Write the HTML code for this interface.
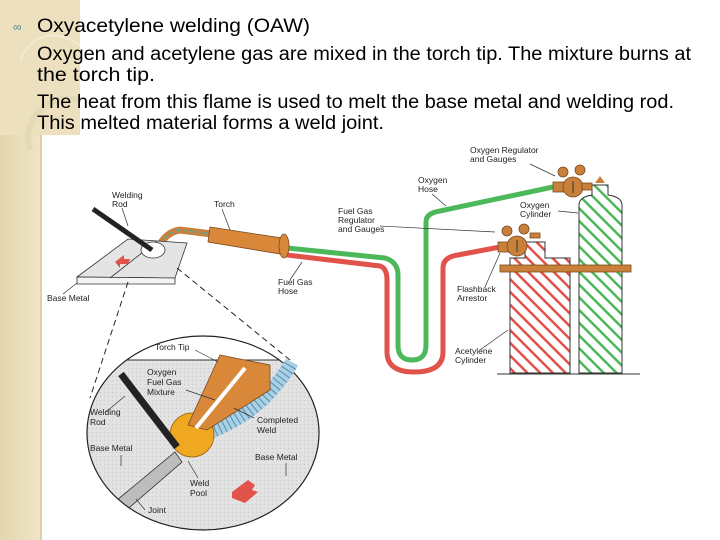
<!DOCTYPE html>
<html><head><meta charset="utf-8"><style>
html,body{margin:0;padding:0;background:#fff;width:720px;height:540px;overflow:hidden}
svg{display:block}
text{font-family:"Liberation Sans",sans-serif}
</style></head><body>
<svg width="720" height="540" viewBox="0 0 720 540" xmlns="http://www.w3.org/2000/svg">
<defs>
<linearGradient id="bg" x1="0" y1="0" x2="1" y2="0"><stop offset="0" stop-color="#e4d6ae"/><stop offset="1" stop-color="#efe5c8"/></linearGradient>
<pattern id="hr" width="9" height="9" patternUnits="userSpaceOnUse" patternTransform="rotate(-45)"><rect width="9" height="9" fill="#fff"/><rect width="2.5" height="9" fill="#e0524a"/></pattern>
<pattern id="hg" width="9" height="9" patternUnits="userSpaceOnUse" patternTransform="rotate(-45)"><rect width="9" height="9" fill="#fff"/><rect width="2.5" height="9" fill="#4cb85a"/></pattern>
<pattern id="dots" width="4" height="4" patternUnits="userSpaceOnUse"><rect width="4" height="4" fill="#e2e2e2"/><rect width="1" height="1" fill="#c8c8c8"/></pattern>
</defs>
<rect x="0" y="0" width="42" height="540" fill="url(#bg)"/>
<rect x="0" y="0" width="80" height="135" fill="#ece0bf"/>
<path d="M20 60 Q40 20 80 45" fill="none" stroke="#f3ead2" stroke-width="2"/>
<path d="M80 100 A40 40 0 0 0 30 150" fill="none" stroke="#e6dab6" stroke-width="6"/>
<line x1="41" y1="135" x2="41" y2="540" stroke="#c9b98c" stroke-width="1"/>
<text x="13" y="31" font-size="12" fill="#4a8a8a">&#8734;</text>
<g font-size="19" fill="#000">
<text x="37" y="32" textLength="273" lengthAdjust="spacingAndGlyphs">Oxyacetylene welding (OAW)</text>
<text x="37" y="60" textLength="654" lengthAdjust="spacingAndGlyphs">Oxygen and acetylene gas are mixed in the torch tip. The mixture burns at</text>
<text x="37" y="81" textLength="118" lengthAdjust="spacingAndGlyphs">the torch tip.</text>
<text x="37" y="108" textLength="637" lengthAdjust="spacingAndGlyphs">The heat from this flame is used to melt the base metal and welding rod.</text>
<text x="37" y="129" textLength="347" lengthAdjust="spacingAndGlyphs">This melted material forms a weld joint.</text>
</g>
<!-- hoses -->
<path d="M287 248 L385 258 Q398 262 398 275 L398 345 Q398 360 412 360 Q426 360 426 345 L426 222 Q426 213 440 211 L553 187" fill="none" stroke="#4cb85a" stroke-width="5"/>
<path d="M287 255 L380 266 Q387 268 387 280 L387 352 Q387 372 414 372 Q443 372 443 352 L443 268 Q443 257 458 255 L500 247" fill="none" stroke="#e0524a" stroke-width="5"/>
<!-- cylinders -->
<path d="M510 373 L510 258 L525 258 L525 242 L545 242 L545 258 L570 258 L570 373 Z" fill="url(#hr)" stroke="#333" stroke-width="1"/>
<path d="M579 373 L579 205 Q579 197 592 195 L592 185 L608 185 L608 195 Q622 197 622 205 L622 373 Z" fill="url(#hg)" stroke="#333" stroke-width="1"/>
<line x1="497" y1="374" x2="640" y2="374" stroke="#333"/>
<rect x="500" y="265" width="131" height="7" fill="#c9803a" stroke="#7a4a20" stroke-width="0.8"/>
<polygon points="595,183 600,176 605,183" fill="#c9803a"/>
<!-- regulators -->
<g fill="#c9803a" stroke="#7a4a20" stroke-width="0.8">
<rect x="553" y="182" width="12" height="10"/><circle cx="573" cy="187" r="10"/><circle cx="563" cy="172" r="5"/><circle cx="580" cy="170" r="5"/><rect x="582" y="183" width="10" height="7"/>
<rect x="498" y="242" width="12" height="10"/><circle cx="517" cy="246" r="10"/><circle cx="507" cy="231" r="5"/><circle cx="524" cy="229" r="5"/><rect x="530" y="233" width="10" height="5"/>
</g>
<line x1="573" y1="181" x2="573" y2="193" stroke="#333"/><line x1="517" y1="240" x2="517" y2="252" stroke="#333"/>
<!-- torch -->
<path d="M157 250 Q165 232 180 230 L212 234" fill="none" stroke="#c9803a" stroke-width="7"/>
<path d="M157 250 Q165 232 180 230 L212 234" fill="none" stroke="#5a9" stroke-width="2" stroke-dasharray="3 4"/>
<polygon points="210,227 282,238 280,254 208,242" fill="#d9883a" stroke="#7a4a20" stroke-width="0.8"/>
<ellipse cx="284" cy="246" rx="5" ry="12" fill="#d9883a" stroke="#7a4a20" stroke-width="0.8"/>
<!-- plates -->
<polygon points="77,277 128,239 187,243 175,278" fill="#e4e4e4" stroke="#333" stroke-width="0.8"/>
<polygon points="77,277 175,278 175,284 77,284" fill="#f4f4f4" stroke="#333" stroke-width="0.8"/>
<line x1="110" y1="278" x2="157" y2="241" stroke="#333" stroke-width="0.8"/>
<ellipse cx="153" cy="250" rx="12" ry="8" fill="#fff" stroke="#333" stroke-width="0.8"/>
<polygon points="115,262 124,255 124,259 130,259 128,264 120,264 120,268" fill="#e0524a"/>
<line x1="93" y1="209" x2="152" y2="250" stroke="#222" stroke-width="5"/>
<!-- dashed -->
<line x1="128" y1="282" x2="90" y2="398" stroke="#222" stroke-dasharray="6 4"/>
<line x1="177" y1="268" x2="290" y2="360" stroke="#222" stroke-dasharray="6 4"/>
<!-- detail circle -->
<clipPath id="cc"><ellipse cx="203" cy="433" rx="116" ry="97"/></clipPath>
<ellipse cx="203" cy="433" rx="116" ry="97" fill="#fff"/>
<g clip-path="url(#cc)">
<rect x="80" y="360" width="250" height="180" fill="url(#dots)"/>
<line x1="80" y1="360" x2="330" y2="360" stroke="#333"/>
<polygon points="105,510 175,452 182,462 115,520" fill="#bdbdbd" stroke="#333" stroke-width="0.8"/>
</g>
<ellipse cx="203" cy="433" rx="116" ry="97" fill="none" stroke="#222" stroke-width="1.2"/>
<path d="M210 432 Q240 420 262 400 Q282 380 292 362" fill="none" stroke="#a8d0e6" stroke-width="14"/>
<path d="M210 432 Q240 420 262 400 Q282 380 292 362" fill="none" stroke="#5a8aa8" stroke-width="14" stroke-dasharray="1 4"/>
<circle cx="192" cy="435" r="22" fill="#f0a820" stroke="#a06010" stroke-width="0.8"/>
<polygon points="220,355 270,365 270,390 207,430 188,425" fill="#d9883a" stroke="#7a4a20" stroke-width="0.8"/>
<line x1="245" y1="368" x2="196" y2="428" stroke="#fff" stroke-width="4"/>
<line x1="121" y1="374" x2="177" y2="447" stroke="#222" stroke-width="7"/>
<polygon points="232,492 248,480 255,485 252,490 258,492 245,503 232,498" fill="#e0524a"/>
<!-- labels -->
<g font-size="8.5" fill="#222">
<text x="112" y="198">Welding</text><text x="112" y="207">Rod</text>
<text x="214" y="207">Torch</text>
<text x="47" y="301">Base Metal</text>
<text x="278" y="285">Fuel Gas</text><text x="278" y="294">Hose</text>
<text x="338" y="214">Fuel Gas</text><text x="338" y="223">Regulator</text><text x="338" y="232">and Gauges</text>
<text x="418" y="183">Oxygen</text><text x="418" y="192">Hose</text>
<text x="470" y="153">Oxygen Regulator</text><text x="470" y="162">and Gauges</text>
<text x="520" y="208">Oxygen</text><text x="520" y="217">Cylinder</text>
<text x="457" y="292">Flashback</text><text x="457" y="301">Arrestor</text>
<text x="455" y="354">Acetylene</text><text x="455" y="363">Cylinder</text>
<text x="155" y="350">Torch Tip</text>
<text x="147" y="375">Oxygen</text><text x="147" y="385">Fuel Gas</text><text x="147" y="395">Mixture</text>
<text x="90" y="415">Welding</text><text x="90" y="425">Rod</text>
<text x="90" y="451">Base Metal</text>
<text x="257" y="423">Completed</text><text x="257" y="433">Weld</text>
<text x="255" y="460">Base Metal</text>
<text x="190" y="486">Weld</text><text x="190" y="496">Pool</text>
<text x="148" y="513">Joint</text>
</g>
<g stroke="#333" stroke-width="0.7" fill="none">
<line x1="122" y1="208" x2="128" y2="226"/><line x1="222" y1="209" x2="230" y2="230"/>
<line x1="63" y1="294" x2="77" y2="283"/><line x1="290" y1="280" x2="302" y2="262"/>
<line x1="380" y1="226" x2="495" y2="232"/><line x1="432" y1="194" x2="446" y2="206"/>
<line x1="530" y1="164" x2="555" y2="176"/><line x1="558" y1="211" x2="578" y2="213"/>
<line x1="485" y1="287" x2="500" y2="253"/><line x1="480" y1="350" x2="508" y2="330"/>
<line x1="195" y1="350" x2="218" y2="362"/><line x1="186" y1="390" x2="215" y2="400"/>
<line x1="106" y1="412" x2="125" y2="396"/><line x1="234" y1="408" x2="254" y2="418"/>
<line x1="121" y1="455" x2="121" y2="466"/><line x1="286" y1="463" x2="286" y2="476"/>
<line x1="188" y1="461" x2="198" y2="478"/><line x1="145" y1="510" x2="136" y2="499"/>
</g>
</svg>
</body></html>
